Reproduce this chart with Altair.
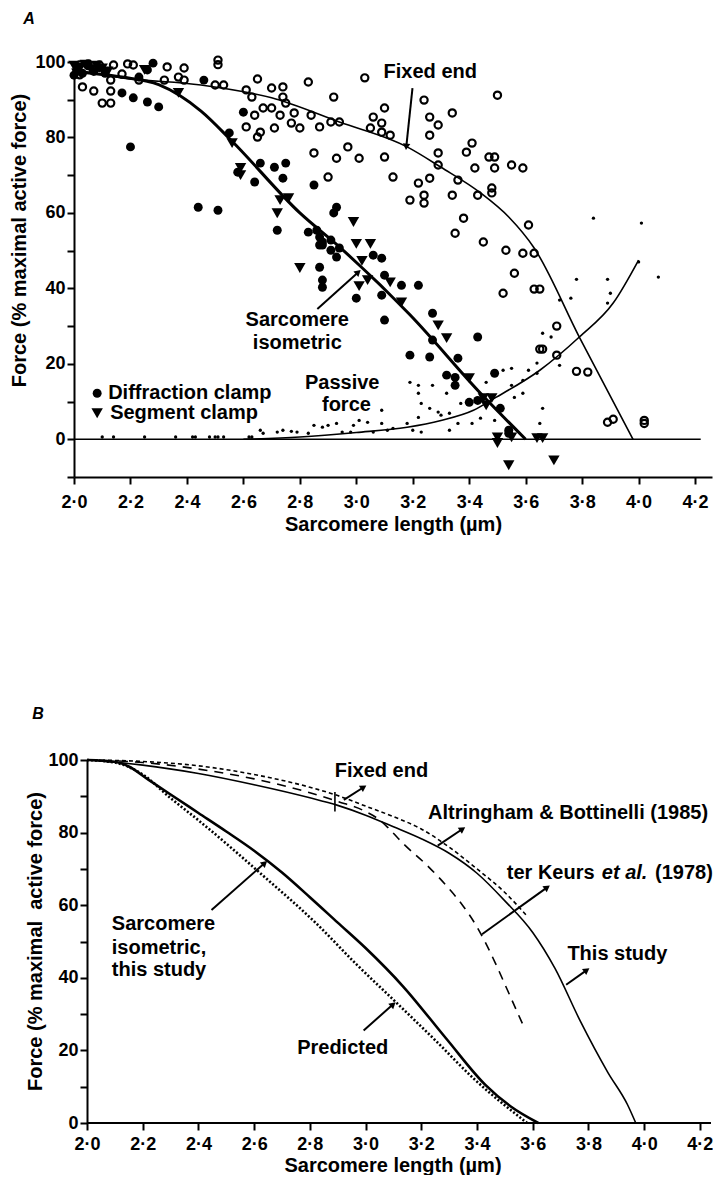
import math
import altair as alt
import pandas as pd

FONT = "Liberation Sans"

# pixel-per-unit factors, used only to orient the arrowheads
A_KX, A_KY = 282.0, 3.77
B_KX, B_KY = 278.6, 3.63

XTICKS = [2.0, 2.2, 2.4, 2.6, 2.8, 3.0, 3.2, 3.4, 3.6, 3.8, 4.0, 4.2]
YTICKS_A = [-10, 0, 10, 20, 30, 40, 50, 60, 70, 80, 90, 100]
YTICKS_B = [0, 10, 20, 30, 40, 50, 60, 70, 80, 90, 100]

# ---------------- Panel A data ----------------
fixed_a_x = [2.0, 2.17, 2.45, 2.7, 2.94, 3.18, 3.3, 3.44, 3.54, 3.63, 3.79, 3.98]
fixed_a_y = [98, 95.8, 93.9, 90.5, 84.1, 77.5, 72.1, 65.3, 58.9, 50.7, 27.1, 0]
sarc_a_x = [2.0, 2.17, 2.3, 2.45, 2.56, 2.8, 2.94, 3.19, 3.44, 3.6]
sarc_a_y = [97.5, 96, 94, 87, 79, 60, 51, 33, 12.2, 0]
pass_a_x = [2.6, 2.8, 3.0, 3.18, 3.3, 3.415, 3.49, 3.65, 3.79, 3.91, 4.0]
pass_a_y = [0, 0.6, 1.8, 3.2, 5, 7.7, 10.9, 18.3, 27.1, 36.1, 47.5]

open_x = [2.02, 2.05, 2.09, 2.14, 2.19, 2.21, 2.03, 2.07, 2.10, 2.13, 2.13, 2.13, 2.17, 2.02,
          2.23, 2.33, 2.32, 2.39, 2.37, 2.39, 2.51, 2.51, 2.50, 2.53, 2.61, 2.63, 2.65, 2.61,
          2.64, 2.67, 2.65, 2.66, 2.70, 2.71, 2.70, 2.74, 2.74, 2.73, 2.77, 2.75, 2.78, 2.80,
          2.83, 2.84, 2.87, 2.92, 2.91, 2.94, 2.85, 2.90, 2.93, 2.97, 3.01, 3.03, 3.06, 3.10,
          3.09, 3.05, 3.09, 3.12, 3.10, 3.13, 3.24, 3.26, 3.29, 3.26, 3.34, 3.50, 3.29, 3.29,
          3.41, 3.39, 3.47, 3.49, 3.42, 3.49, 3.55, 3.59, 3.36, 3.26, 3.22, 3.24, 3.24, 3.19,
          3.34, 3.43, 3.48, 3.48, 3.38, 3.35, 3.45, 3.61, 3.53, 3.59, 3.63, 3.56, 3.52, 3.63,
          3.65, 3.71, 3.65, 3.66, 3.71, 3.78, 3.82, 3.89, 3.91, 4.02, 4.02]
open_y = [99.2, 99.5, 99.2, 99.2, 99.5, 99.2, 93.4, 92.3, 89.1, 89.1, 92.3, 95.2, 96.8, 96.6,
          95.2, 98.7, 95.2, 98.4, 96.0, 95.2, 100.5, 99.3, 93.9, 93.9, 92.6, 90.7, 95.5, 82.8,
          85.9, 87.8, 80.1, 81.4, 93.1, 82.5, 87.8, 90.7, 93.4, 85.9, 83.8, 89.1, 86.5, 82.5,
          94.7, 85.9, 82.8, 90.7, 84.1, 84.1, 75.9, 69.5, 74.5, 77.5, 74.5, 95.8, 85.4, 87.8,
          83.8, 82.5, 81.4, 80.6, 74.8, 69.5, 89.9, 85.4, 83.3, 80.6, 86.5, 91.2, 75.9, 72.7,
          78.5, 76.1, 74.8, 74.8, 71.9, 71.9, 72.7, 71.9, 68.7, 69.2, 67.9, 64.7, 62.6, 63.4,
          64.7, 64.7, 66.6, 65.3, 58.6, 54.6, 52.3, 56.8, 50.1, 49.3, 49.3, 44.0, 38.7, 39.8,
          39.8, 30.0, 23.9, 23.9, 22.3, 18.0, 17.8, 4.5, 5.3, 4.2, 5.0]

filled_x = [2.01, 2.03, 2.05, 2.07, 2.09, 2.11, 2.00, 2.28, 2.26, 2.23, 2.17, 2.21, 2.26, 2.30,
            2.20, 2.46, 2.44, 2.51, 2.60, 2.55, 2.58, 2.64, 2.66, 2.71, 2.75, 2.74, 2.72, 2.83,
            2.85, 2.92, 2.93, 2.86, 2.88, 2.87, 2.88, 2.91, 2.91, 2.94, 2.93, 2.87, 2.87, 2.88,
            2.88, 3.09, 3.10, 3.16, 3.22, 3.09, 3.00, 3.10, 3.06, 3.27, 3.27, 3.19, 3.26, 3.36,
            3.43, 3.32, 3.35, 3.35, 3.49, 3.40, 3.43, 3.51, 3.54, 3.54]
filled_y = [98, 97, 99, 97.5, 98.5, 97, 96.5, 99.7, 97.9, 96.0, 91.8, 90.5, 89.4, 88.1,
            77.5, 95.2, 61.5, 60.7, 86.7, 81.2, 70.8, 68.2, 73.2, 72.1, 73.2, 69.2, 55.4, 54.9,
            67.4, 60.0, 61.5, 55.4, 52.3, 53.6, 51.5, 52.8, 50.1, 50.7, 48.3, 51.5, 45.6, 42.2,
            40.3, 48.0, 43.5, 40.8, 40.8, 38.2, 37.4, 31.6, 48.8, 33.4, 26.3, 22.3, 21.8, 21.5,
            27.1, 17.0, 16.4, 14.3, 17.5, 9.8, 10.3, 8.2, 2.4, 1.6]

tri_x = [2.00, 2.02, 2.04, 2.06, 2.08, 2.10, 2.12, 2.01, 2.25, 2.37, 2.56, 2.59, 2.59, 2.73,
         2.72, 2.76, 2.99, 2.80, 3.00, 3.05, 3.02, 3.04, 3.01, 3.12, 3.16, 3.29, 3.32, 3.40,
         3.45, 3.48, 3.46, 3.50, 3.55, 3.50, 3.64, 3.66, 3.54, 3.70]
tri_y = [99, 98.5, 99.3, 98, 99, 98.3, 97.5, 97, 97.9, 91.8, 78.5, 71.9, 70.0, 63.4,
         59.9, 63.9, 57.6, 45.4, 51.8, 51.8, 47.3, 42.2, 40.6, 41.6, 36.3, 30.2, 26.8, 16.2,
         10.9, 10.9, 9.0, 0.5, 0.5, -1.0, 0.3, 0.3, -6.9, -5.6]

dot_x = [2.10, 2.14, 2.25, 2.36, 2.42, 2.43, 2.48, 2.50, 2.51, 2.53, 2.62, 2.63,
         2.66, 2.67, 2.72, 2.74, 2.77, 2.79, 2.83, 2.85, 2.88, 2.90, 2.93, 2.95, 2.98, 2.99,
         3.01, 3.04, 3.06, 3.09, 3.11, 3.09, 3.13, 3.18, 3.20, 3.23, 3.22, 3.23, 3.22, 3.19,
         3.22, 3.27, 3.26, 3.29, 3.30, 3.32, 3.33, 3.36, 3.33, 3.37, 3.41, 3.44, 3.46, 3.52,
         3.55, 3.55, 3.56, 3.59, 3.59, 3.61, 3.64, 3.64, 3.66, 3.69, 3.72, 3.66, 3.65, 3.51,
         3.49, 3.76, 3.78, 3.89, 3.90, 3.89, 4.00, 4.07, 3.72, 3.84, 4.01]
dot_y = [0.6, 0.6, 0.6, 0.6, 0.6, 0.6, 0.6, 0.6, 0.6, 0.6, 0.6, 0.6,
         2.4, 1.6, 1.9, 2.4, 2.1, 1.9, 1.6, 3.7, 3.2, 3.7, 4.2, 1.9, 1.9, 3.7,
         5.0, 4.5, 1.9, 7.7, 2.4, 4.2, 2.9, 4.2, 2.4, 1.9, 5.8, 9.5, 12.2, 15.1,
         14.3, 14.3, 8.2, 7.2, 6.4, 12.2, 6.9, 4.2, 2.4, 9.5, 4.2, 5.6, 15.1, 18.3,
         18.8, 14.3, 11.1, 12.2, 15.6, 18.3, 20.2, 17.5, 28.1, 27.1, 19.6, 8.2, 4.2, 7.7,
         5.0, 37.4, 42.4, 42.4, 38.7, 36.1, 47.0, 43.0, 36.9, 58.6, 57.3]

zero_a = {"x": [2.0], "x2": [4.22], "y": [0.0]}

arrows_a = {"x": [3.199, 2.862], "y": [93.1, 34.5], "x2": [3.177, 3.007], "y2": [77.5, 44.3]}
labels_a_txt = ["Fixed end", "Sarcomere", "isometric", "Passive", "force"]
labels_a_x = [3.262, 2.791, 2.791, 2.95, 2.965]
labels_a_y = [97.3, 31.6, 25.5, 14.9, 9.0]
legend_txt = ["Diffraction clamp", "Segment clamp"]
legend_mx = [2.082, 2.082]
legend_my = [12.2, 6.9]
legend_tx = [2.121, 2.128]

# ---------------- Panel B data ----------------
fixed_b_x = [2.0, 2.2, 2.4, 2.6, 2.8, 2.9, 3.0, 3.1, 3.2, 3.3, 3.4, 3.5, 3.6, 3.68, 3.77, 3.87, 3.94, 3.97]
fixed_b_y = [100, 98.6, 96.3, 93.2, 89.6, 87.5, 84.8, 81.6, 78.3, 74.3, 68.8, 61.2, 52.5, 42.6, 28.2, 13.9, 5.1, 0]
altr_x = [2.0, 2.2, 2.4, 2.6, 2.8, 2.9, 3.0, 3.1, 3.2, 3.3, 3.4, 3.5, 3.58]
altr_y = [100, 99.6, 98.4, 96.0, 92.5, 90.2, 87.3, 84.4, 81.0, 76.0, 70.0, 63.5, 57.0]
keurs_x = [2.0, 2.2, 2.4, 2.6, 2.8, 2.9, 3.0, 3.05, 3.085, 3.135, 3.227, 3.3, 3.35, 3.4, 3.465, 3.51, 3.571]
keurs_y = [100, 99.3, 97.5, 94.8, 91.0, 88.6, 85.8, 83.5, 81.0, 77.0, 70.5, 64.5, 59.8, 54.0, 44.2, 36.5, 26.0]
sarc_b_x = [2.0, 2.1, 2.15, 2.22, 2.3, 2.4, 2.5, 2.6, 2.7, 2.8, 2.9, 3.0, 3.135, 3.29, 3.43, 3.52, 3.62]
sarc_b_y = [100, 99.5, 98.2, 94.6, 90.5, 85.4, 80.3, 75.0, 69.0, 62.2, 55.2, 48.2, 37.6, 23.2, 10.5, 4.6, 0]
pred_x = [2.0, 2.1, 2.2, 2.3, 2.4, 2.64, 2.82, 2.97, 3.11, 3.25, 3.39, 3.58]
pred_y = [100, 99.3, 96.0, 89.5, 83.4, 67.6, 55.2, 43.5, 33.2, 22.8, 12.1, 0]

axis_b = {"x": [2.0], "x2": [4.24], "y": [0.0]}
arrows_b = {"x": [2.922, 3.259, 3.418, 3.720, 2.993, 2.447],
            "y": [89.0, 76.4, 52.0, 38.1, 25.5, 58.7],
            "x2": [2.993, 3.348, 3.652, 3.794, 3.099, 2.638],
            "y2": [92.5, 81.0, 64.9, 42.1, 32.7, 71.6]}
cross_b = {"x": [2.89], "x2": [2.89], "y": [91.2], "y2": [85.8]}
labels_b_txt = ["Fixed end", "Altringham & Bottinelli (1985)", "This study", "Predicted"]
labels_b_x = [3.057, 3.727, 3.904, 2.918]
labels_b_y = [97.1, 85.5, 46.6, 20.6]
left_b_txt = ["Sarcomere", "isometric,", "this study", "ter Keurs", "(1978)"]
left_b_x = [2.089, 2.089, 2.089, 3.507, 4.039]
left_b_y = [54.7, 48.3, 42.1, 68.9, 68.9]
ital_b_txt = ["et al."]
ital_b_x = [3.848]
ital_b_y = [68.9]

# ---------------- helpers ----------------
XLABEL = "replace(format(datum.value, '.1f'), '.', '\u00b7')"
YLABEL = "datum.value % 20 == 0 ? format(datum.value, 'd') : ''"


def make_enc(xdom, ydom, yticks, ytitle, tx, ty, xdomain_line=True, yoffset=0,
             lab_pad=6, tit_pad=3):
    ex = alt.X("x:Q", scale=alt.Scale(domain=xdom, nice=False, zero=False),
               axis=alt.Axis(values=XTICKS, labelExpr=XLABEL, labelFlush=False,
                             labelPadding=lab_pad, titlePadding=tit_pad,
                             domain=xdomain_line, title="Sarcomere length (\u00b5m)"))
    ey = alt.Y("y:Q", scale=alt.Scale(domain=ydom, nice=False, zero=False),
               axis=alt.Axis(values=yticks, labelExpr=YLABEL, title=ytitle, offset=yoffset,
                             titleX=tx, titleY=ty, titleBaseline="middle", titleAlign="center"))
    return ex, ey


def line_df(xs, ys):
    return pd.DataFrame({"x": xs, "y": ys})


def arrows(d, kx, ky, ex, ey):
    df = pd.DataFrame(d)
    angs = []
    for x1, y1, x2, y2 in zip(df.x, df.y, df.x2, df.y2):
        dx = (x2 - x1) * kx
        dy = -(y2 - y1) * ky
        angs.append(math.degrees(math.atan2(dx, -dy)) % 360)
    shaft = alt.Chart(df).mark_rule(color="black", strokeWidth=2).encode(
        x=ex, y=ey, x2=alt.X2("x2:Q"), y2=alt.Y2("y2:Q"))
    hd = pd.DataFrame({"x": list(df.x2), "y": list(df.y2), "ang": angs})
    head = alt.Chart(hd).mark_point(shape="triangle-up", filled=True, size=55, color="black",
                                    opacity=1, strokeWidth=0).encode(
        x=ex, y=ey, angle=alt.Angle("ang:Q", scale=None))
    return shaft, head


def text_layer(txts, xs, ys, ex, ey, align="center", style="normal", size=20):
    df = pd.DataFrame({"t": txts, "x": xs, "y": ys})
    return alt.Chart(df).mark_text(font=FONT, fontSize=size, fontWeight="bold", fontStyle=style,
                                   align=align, baseline="middle", color="black").encode(
        x=ex, y=ey, text="t:N")


def pad_layer(px, py):
    return alt.Chart(pd.DataFrame({"a": [0]})).mark_rule(color="white", opacity=0).encode(
        x=alt.value(px), x2=alt.value(px + 1), y=alt.value(py), y2=alt.value(py + 1))


def letter_layer(letter, px, py):
    return alt.Chart(pd.DataFrame({"t": [letter]})).mark_text(
        font=FONT, fontSize=16, fontWeight="bold", fontStyle="italic", color="black",
        align="center", baseline="middle").encode(x=alt.value(px), y=alt.value(py), text="t:N")


# ---------------- Panel A ----------------
exA, eyA = make_enc([2.0, 4.26], [-10, 100], YTICKS_A, "Force (% maximal active force)", -55, 178,
                    lab_pad=9, tit_pad=3)

zeroA = alt.Chart(pd.DataFrame(zero_a)).mark_rule(color="black", strokeWidth=1.5).encode(
    x=exA, y=eyA, x2=alt.X2("x2:Q"))
fixedA = alt.Chart(line_df(fixed_a_x, fixed_a_y)).mark_line(
    color="black", strokeWidth=1.6, interpolate="monotone").encode(x=exA, y=eyA)
sarcA = alt.Chart(line_df(sarc_a_x, sarc_a_y)).mark_line(
    color="black", strokeWidth=3, interpolate="monotone").encode(x=exA, y=eyA)
passA = alt.Chart(line_df(pass_a_x, pass_a_y)).mark_line(
    color="black", strokeWidth=1.6, interpolate="monotone").encode(x=exA, y=eyA)
dotsA = alt.Chart(line_df(dot_x, dot_y)).mark_point(
    shape="circle", filled=True, size=11, color="black", opacity=1).encode(x=exA, y=eyA)
openA = alt.Chart(line_df(open_x, open_y)).mark_point(
    shape="circle", filled=False, size=52, color="black", strokeWidth=2.2, opacity=1).encode(x=exA, y=eyA)
filledA = alt.Chart(line_df(filled_x, filled_y)).mark_point(
    shape="circle", filled=True, size=80, color="black", opacity=1).encode(x=exA, y=eyA)
triA = alt.Chart(line_df(tri_x, tri_y)).mark_point(
    shape="triangle-down", filled=True, size=130, color="black", opacity=1).encode(x=exA, y=eyA)

legA_c = alt.Chart(line_df(legend_mx[:1], legend_my[:1])).mark_point(
    shape="circle", filled=True, size=80, color="black", opacity=1).encode(x=exA, y=eyA)
legA_t = alt.Chart(line_df(legend_mx[1:], legend_my[1:])).mark_point(
    shape="triangle-down", filled=True, size=130, color="black", opacity=1).encode(x=exA, y=eyA)
legA_txt = text_layer(legend_txt, legend_tx, legend_my, exA, eyA, align="left")
labA = text_layer(labels_a_txt, labels_a_x, labels_a_y, exA, eyA)
arA_s, arA_h = arrows(arrows_a, A_KX, A_KY, exA, eyA)

panelA = alt.layer(
    pad_layer(-66, -54), letter_layer("A", -45, -43),
    zeroA, passA, fixedA, sarcA, dotsA, openA, filledA, triA,
    legA_c, legA_t, legA_txt, labA, arA_s, arA_h
).properties(width=638, height=415)

# ---------------- Panel B ----------------
B_SHIFT = 13.0 / B_KX  # B's plot starts 13 px right of A's
exB, eyB = make_enc([2.0 - B_SHIFT, 4.24], [0, 100], YTICKS_B,
                    "Force (% maximal\u00a0 active force)", -52, 181,
                    xdomain_line=False, yoffset=-13, lab_pad=5, tit_pad=2)

axisB = alt.Chart(pd.DataFrame(axis_b)).mark_rule(color="black", strokeWidth=2).encode(
    x=exB, y=eyB, x2=alt.X2("x2:Q"))
fixedB = alt.Chart(line_df(fixed_b_x, fixed_b_y)).mark_line(
    color="black", strokeWidth=1.6, interpolate="monotone").encode(x=exB, y=eyB)
altrB = alt.Chart(line_df(altr_x, altr_y)).mark_line(
    color="black", strokeWidth=1.6, strokeDash=[4, 3], interpolate="monotone").encode(x=exB, y=eyB)
keursB = alt.Chart(line_df(keurs_x, keurs_y)).mark_line(
    color="black", strokeWidth=1.6, strokeDash=[9, 7], interpolate="monotone").encode(x=exB, y=eyB)
sarcB = alt.Chart(line_df(sarc_b_x, sarc_b_y)).mark_line(
    color="black", strokeWidth=2.6, interpolate="monotone").encode(x=exB, y=eyB)
predB = alt.Chart(line_df(pred_x, pred_y)).mark_line(
    color="black", strokeWidth=2.6, strokeDash=[2, 2], interpolate="monotone").encode(x=exB, y=eyB)
crossB = alt.Chart(pd.DataFrame(cross_b)).mark_rule(color="black", strokeWidth=1.6).encode(
    x=exB, y=eyB, x2=alt.X2("x2:Q"), y2=alt.Y2("y2:Q"))
arB_s, arB_h = arrows(arrows_b, B_KX, B_KY, exB, eyB)
labB = text_layer(labels_b_txt, labels_b_x, labels_b_y, exB, eyB)
leftB = text_layer(left_b_txt, left_b_x, left_b_y, exB, eyB, align="left")
italB = text_layer(ital_b_txt, ital_b_x, ital_b_y, exB, eyB, align="left", style="italic")

panelB = alt.layer(
    pad_layer(-36, -56), letter_layer("B", -36, -46),
    axisB, fixedB, altrB, keursB, predB, sarcB, crossB, arB_s, arB_h, labB, leftB, italB
).properties(width=637, height=363)

chart = alt.vconcat(panelA, panelB, spacing=170).properties(
    padding=0
).configure_view(stroke=None).configure_axis(
    domainColor="black", domainWidth=2, tickColor="black", tickWidth=2, tickSize=7,
    labelFont=FONT, labelFontSize=18, labelFontWeight="bold", labelColor="black",
    titleFont=FONT, titleFontSize=20, titleFontWeight="bold",
    titleColor="black", grid=False, labelOverlap=False
)

chart.save("out.html", embed_options={"renderer": "svg", "actions": False})
